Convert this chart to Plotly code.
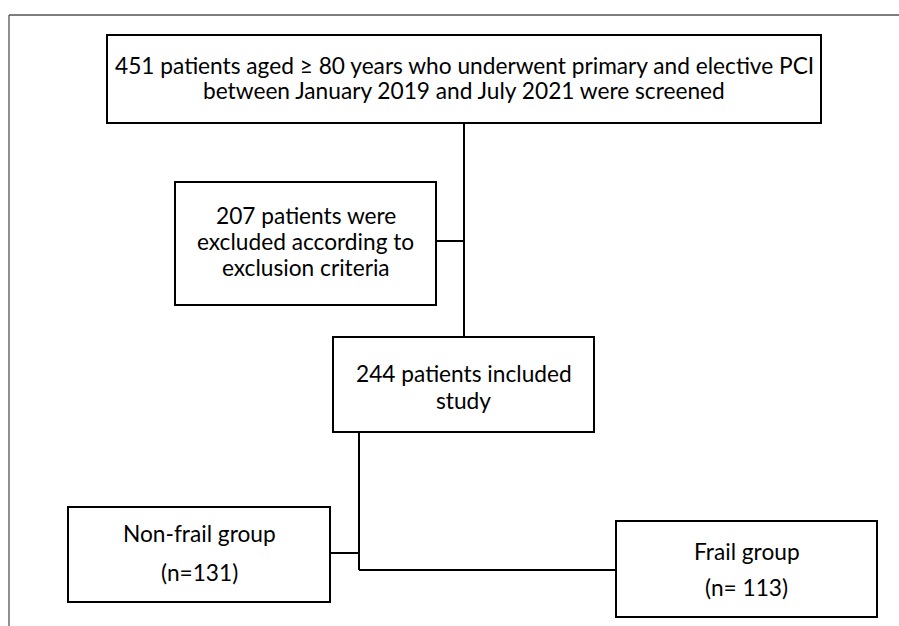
import plotly.graph_objects as go

# ---- data ----
n_screened = 451
n_excluded = 207
n_included = 244
n_nonfrail = 131
n_frail = 113

screen_lines = [f"{n_screened} patients aged \u2265 80 years who underwent primary and elective PCI",
                "between January 2019 and July 2021 were screened"]
exclude_lines = [f"{n_excluded} patients were", "excluded according to", "exclusion criteria"]
include_lines = [f"{n_included} patients included", "study"]
nonfrail_lines = ["Non-frail group", f"(n={n_nonfrail})"]
frail_lines = ["Frail group", f"(n= {n_frail})"]

# ---- layout (pixel coordinates) ----
W, H = 899, 626
FONT = dict(family="Lato, Carlito, Arial, sans-serif", size=22.7, color="#000000")

boxes = [
    # x0, y0, x1, y1, lines, line y centres
    (107, 35, 821, 123, screen_lines, [65, 90]),
    (175, 182, 436, 305, exclude_lines, [215, 241, 267]),
    (333, 337, 594, 432, include_lines, [373, 400]),
    (68, 507, 330, 602, nonfrail_lines, [533, 572]),
    (616, 521, 877, 617, frail_lines, [551, 587]),
]

connectors = [
    (464, 123, 464, 337),
    (436, 241, 464, 241),
    (359, 432, 359, 570),
    (330, 553, 359, 553),
    (359, 570, 616, 570),
]

fig = go.Figure()
shapes = []
annotations = []

# outer frame (left and top)
shapes.append(dict(type="line", x0=9, y0=15, x1=9, y1=H, line=dict(color="#555555", width=1.3)))
shapes.append(dict(type="line", x0=9, y0=15, x1=W, y1=15, line=dict(color="#555555", width=1.3)))

for x0, y0, x1, y1, lines, ys in boxes:
    shapes.append(dict(type="rect", x0=x0, y0=y0, x1=x1, y1=y1,
                       line=dict(color="#000000", width=2), fillcolor="white", layer="above"))
    for txt, yy in zip(lines, ys):
        annotations.append(dict(x=(x0 + x1) / 2, y=yy, text=txt, showarrow=False,
                                xanchor="center", yanchor="middle", font=FONT))

for x0, y0, x1, y1 in connectors:
    shapes.append(dict(type="line", x0=x0, y0=y0, x1=x1, y1=y1,
                       line=dict(color="#000000", width=2), layer="below"))

fig.add_trace(go.Scatter(x=[0, W], y=[0, H], mode="markers", marker=dict(opacity=0),
                         hoverinfo="skip", showlegend=False))

fig.update_layout(
    width=W, height=H,
    margin=dict(l=0, r=0, t=0, b=0),
    paper_bgcolor="white", plot_bgcolor="white",
    xaxis=dict(range=[0, W], visible=False, fixedrange=True),
    yaxis=dict(range=[H, 0], visible=False, fixedrange=True),
    shapes=shapes, annotations=annotations, showlegend=False,
)

fig.write_html("out.html", config=dict(displayModeBar=False),
               post_script="document.body.style.margin='0';document.body.style.overflow='hidden';")
